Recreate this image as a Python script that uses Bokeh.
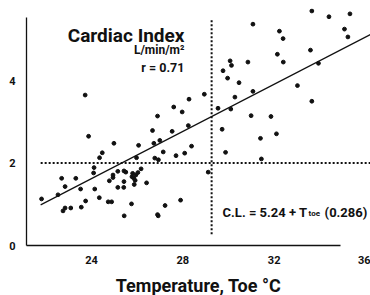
from bokeh.plotting import figure
from bokeh.models import LinearAxis, FixedTicker, Label, Range1d
from bokeh.embed import file_html
from bokeh.resources import INLINE

# Toe temperature (°C) and cardiac index (L/min/m2)
temp = [23.72, 23.87, 24.98, 24.47, 24.35, 24.11, 24.09, 22.69, 23.31, 22.84,
        24.94, 24.94, 24.78, 22.53, 23.52, 24.14, 21.81, 24.34, 23.74, 24.73,
        24.88, 22.84, 22.75, 23.09, 23.55, 26.06, 26.73, 27.14, 27.70, 28.08,
        25.97, 26.77, 26.93, 25.15, 25.42, 25.50, 25.80, 26.03, 26.17, 25.94,
        25.85, 25.91, 25.77, 25.42, 25.15, 25.41, 25.87, 26.41, 25.75, 25.43,
        26.89, 26.92, 27.22, 27.90, 26.99, 28.27, 27.60, 27.97, 26.89, 26.67,
        27.53, 28.24, 28.38, 31.07, 32.23, 32.14, 30.85, 30.07, 30.13, 29.76,
        29.96, 30.46, 31.07, 28.94, 30.28, 29.54, 30.10, 30.99, 31.86, 29.72,
        31.40, 32.10, 29.87, 31.44, 29.11, 33.65, 34.40, 35.32, 32.39, 35.08,
        35.23, 33.59, 32.40, 33.94, 33.02, 33.65]
ci = [3.65, 2.65, 2.48, 2.25, 2.13, 1.89, 1.76, 1.63, 1.63, 1.43,
      1.71, 1.65, 1.57, 1.23, 1.37, 1.37, 1.13, 1.16, 1.08, 1.06,
      1.06, 0.91, 0.84, 0.91, 0.93, 2.43, 2.48, 2.27, 2.18, 2.24,
      2.13, 2.12, 2.08, 1.80, 1.81, 1.78, 1.75, 1.77, 1.86, 1.71,
      1.63, 1.58, 1.67, 1.55, 1.41, 1.41, 1.48, 1.52, 1.01, 0.72,
      0.75, 0.72, 0.97, 1.10, 2.55, 3.55, 3.36, 3.24, 3.14, 2.79,
      2.77, 2.91, 2.41, 5.37, 5.20, 4.64, 4.45, 4.48, 4.37, 4.24,
      4.06, 3.95, 3.74, 3.67, 3.60, 3.33, 3.31, 3.15, 3.13, 2.82,
      2.60, 2.71, 2.26, 2.10, 1.78, 5.69, 5.55, 5.62, 5.02, 5.25,
      5.06, 4.74, 4.45, 4.42, 3.88, 3.50]

# regression: C.I. = -5.24 + 0.286 * T
intercept = -5.24
slope = 0.286
fit_x = [21.77, 36.22]
fit_y = [intercept + slope * t for t in fit_x]

# dotted reference lines
h_ref_x = [21.77, 36.22]
h_ref_y = [2.0, 2.0]
v_ref_x = [29.26, 29.26]
v_ref_y = [0.27, 5.49]

x_ticks = [24, 28, 32, 36]
y_ticks = [0, 2, 4]

TITLE_FONT = "Roboto"
SMALL_FONT = "Roboto"

p = figure(frame_width=344, frame_height=237,
           x_range=Range1d(21.15, 36.22), y_range=Range1d(0, 5.75),
           output_backend="svg", toolbar_location=None,
           x_axis_type=None, y_axis_type=None,
           min_border_left=26, min_border_right=0,
           min_border_top=8, min_border_bottom=0)
p.outline_line_color = None
p.grid.visible = False
p.background_fill_color = "white"

yaxis = LinearAxis(ticker=FixedTicker(ticks=y_ticks), bounds=(0, 5.53))
yaxis.major_tick_line_color = None
yaxis.minor_tick_line_color = None
yaxis.major_tick_out = 0
yaxis.major_tick_in = 0
yaxis.major_label_standoff = 11
yaxis.axis_line_width = 1.3
yaxis.axis_line_color = "#111111"
yaxis.major_label_text_font = SMALL_FONT
yaxis.major_label_text_font_style = "bold"
yaxis.major_label_text_font_size = "11px"
yaxis.major_label_text_color = "#111111"
p.add_layout(yaxis, "left")

xline = LinearAxis(ticker=FixedTicker(ticks=[]), bounds=(21.15, 34.9))
xline.major_tick_out = 0
xline.major_tick_in = 0
xline.major_label_standoff = 0
xline.axis_label_standoff = 0
xline.major_label_text_font_size = "0px"
xline.axis_line_width = 1.3
xline.axis_line_color = "#111111"
p.add_layout(xline, "below")

xaxis = LinearAxis(ticker=FixedTicker(ticks=x_ticks))
xaxis.axis_line_color = None
xaxis.major_tick_line_color = None
xaxis.minor_tick_line_color = None
xaxis.major_tick_out = 0
xaxis.major_tick_in = 0
xaxis.major_label_standoff = 10
xaxis.major_label_text_font = SMALL_FONT
xaxis.major_label_text_font_style = "bold"
xaxis.major_label_text_font_size = "11px"
xaxis.major_label_text_color = "#111111"
xaxis.axis_label = "Temperature, Toe °C"
xaxis.axis_label_text_font = TITLE_FONT
xaxis.axis_label_text_font_style = "bold"
xaxis.axis_label_text_font_size = "18px"
xaxis.axis_label_text_color = "#111111"
xaxis.axis_label_standoff = 8
p.add_layout(xaxis, "below")

p.line(h_ref_x, h_ref_y, line_color="#111111", line_width=2, line_dash="2 2")
p.line(v_ref_x, v_ref_y, line_color="#111111", line_width=2, line_dash="2 2")
p.line(fit_x, fit_y, line_color="#111111", line_width=1.2)
p.scatter(temp, ci, size=3.8, color="#111111")

def lab(text, x, y, size, align, font, xo=0, yo=0):
    p.add_layout(Label(x=x, y=y, text=text, text_font=font, text_font_style="bold",
                       text_font_size=size, text_align=align, text_baseline="alphabetic",
                       text_color="#111111", x_offset=xo, y_offset=yo))

lab("Cardiac Index", 28.07, 5.10, "19px", "right", TITLE_FONT)
lab("L/min/m²", 28.07, 4.75, "12px", "right", SMALL_FONT)
lab("r = 0.71", 28.07, 4.31, "12.5px", "right", SMALL_FONT)

lab("C.L. = 5.24 + T", 29.74, 0.81, "13px", "left", SMALL_FONT)
lab("toe", 29.74, 0.81, "8px", "left", SMALL_FONT, xo=86, yo=-1.5)
lab("(0.286)", 29.74, 0.81, "13px", "left", SMALL_FONT, xo=102)

open("out.html", "w").write(file_html(p, INLINE))
